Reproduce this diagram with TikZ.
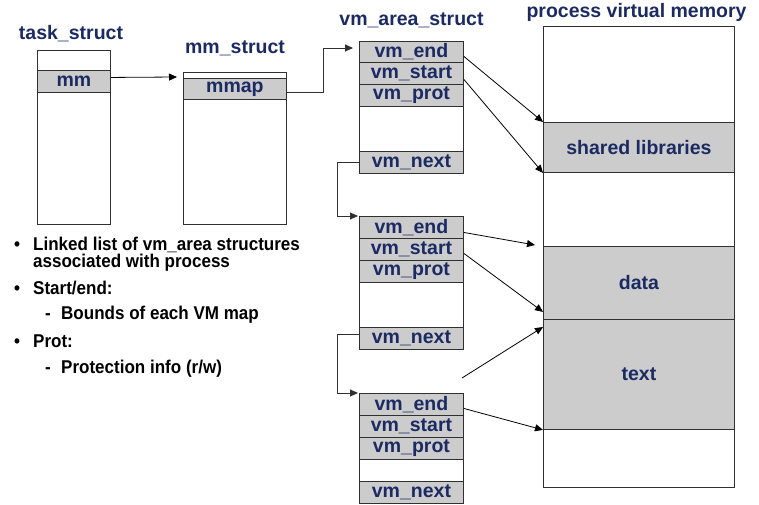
\documentclass[tikz,border=0pt]{standalone}
\usepackage{fontspec}
\setmainfont{Liberation Sans}
\newfontfamily\narrowsans[FakeStretch=0.92]{Liberation Sans}
\usetikzlibrary{arrows.meta}
\definecolor{navy}{HTML}{1B2A62}
\definecolor{cellgray}{HTML}{CCCCCC}
\definecolor{edge}{HTML}{303030}
\tikzset{
  x=1pt, y=-1pt,
  title/.style={anchor=base, inner sep=0, text=navy, font=\fontsize{19.5}{22}\selectfont\bfseries},
  cell/.style={draw=edge, line width=0.9pt, fill=cellgray, anchor=north west, inner sep=0,
    minimum width=104, minimum height=22, text=navy,
    font=\fontsize{19.5}{22}\selectfont\bfseries},
  blank/.style={cell, fill=white},
  frame/.style={draw=edge, line width=0.9pt, fill=white, anchor=north west, inner sep=0},
  arr/.style={draw=black, line width=0.8pt, -{Triangle[length=8pt,width=7pt]}},
  link/.style={draw=edge, line width=0.9pt, -{Triangle[length=8pt,width=7pt]}},
  note/.style={anchor=base west, inner sep=0, text=black, align=left,
    font=\narrowsans\fontsize{18.5}{17}\selectfont\bfseries},
}
\begin{document}
\begin{tikzpicture}
\useasboundingbox (0,0) rectangle (759,505);

% titles
\node[title] (t1) at (71,40) {task\_struct};
\node[title] (t2) at (235,54) {mm\_struct};
\node[title] (t3) at (411.5,26) {vm\_area\_struct};
\node[title] (t4) at (636.5,18) {process virtual memory};

% task_struct
\node[frame, minimum width=73, minimum height=174] (task) at (37,50) {};
\node[cell, minimum width=73] (mm) at (37,70) {mm};

% mm_struct
\node[frame, minimum width=103, minimum height=152] (mmbox) at (183,72) {};
\node[cell, minimum width=103, minimum height=21] (mmap) at (183,78) {mmap};

% vm_area_struct #1
\node[cell, minimum height=21] (e1) at (359,41) {vm\_end};
\node[cell] (s1) at (359,62) {vm\_start};
\node[cell] (p1) at (359,84) {vm\_prot};
\node[blank, minimum height=45] (b1) at (359,106) {};
\node[cell] (n1) at (359,151) {vm\_next};

% vm_area_struct #2
\node[cell] (e2) at (359,216) {vm\_end};
\node[cell] (s2) at (359,238) {vm\_start};
\node[cell] (p2) at (359,260) {vm\_prot};
\node[blank, minimum height=45] (b2) at (359,282) {};
\node[cell] (n2) at (359,327) {vm\_next};

% vm_area_struct #3
\node[cell] (e3) at (359,393) {vm\_end};
\node[cell] (s3) at (359,415) {vm\_start};
\node[cell] (p3) at (359,437) {vm\_prot};
\node[blank] (b3) at (359,459) {};
\node[cell] (n3) at (359,481) {vm\_next};

% process virtual memory
\node[frame, minimum width=191, minimum height=461] (pvm) at (543,26) {};
\node[cell, minimum width=191, minimum height=50] (shlib) at (543,122) {shared libraries};
\node[cell, minimum width=191, minimum height=73] (data) at (543,246) {data};
\node[cell, minimum width=191, minimum height=110] (text) at (543,319) {text};

% pointer chain
\coordinate (mmin) at (177,77);
\draw[arr] ([yshift=4]mm.east) -- (mmin);
\coordinate (vmin) at (353,48);
\draw[link] ([yshift=-3.5]mmap.east) -| (323,48) -- (vmin);
\draw[link] (n1.west) -- ++(-22,0) |- ([xshift=-1]e2.north west);
\draw[link] ([yshift=4]n2.west) -- ++(-22,0) |- ([xshift=-1]e3.north west);

% bounds of each area
\coordinate (d1) at (535,245);
\coordinate (f0) at (462,378);
\draw[arr] ([yshift=-4.5]e1.east) -- (shlib.north west);
\draw[arr] ([yshift=-6]s1.east) -- (shlib.south west);
\draw[arr] ([yshift=-5]e2.east) -- (d1);
\draw[arr] ([yshift=-4]s2.east) -- ([yshift=8]data.south west);
\draw[arr] (f0) -- ([yshift=-8]text.north west);
\draw[arr] ([yshift=-4]e3.east) -- (text.south west);

% notes
\node[note] (u1) at (14,250) {•};
\node[note] (l1) at (33,267) {Linked list of vm\_area structures\\associated with process};
\node[note] (u2) at (14,294) {•};
\node[note] (l3) at (33,294) {Start/end:};
\node[note] (d2) at (45,319) {-};
\node[note] (l4) at (61,319) {Bounds of each VM map};
\node[note] (u3) at (14,347) {•};
\node[note] (l5) at (33,347) {Prot:};
\node[note] (d3) at (45,373) {-};
\node[note] (l6) at (61,373) {Protection info (r/w)};
\end{tikzpicture}
\end{document}
